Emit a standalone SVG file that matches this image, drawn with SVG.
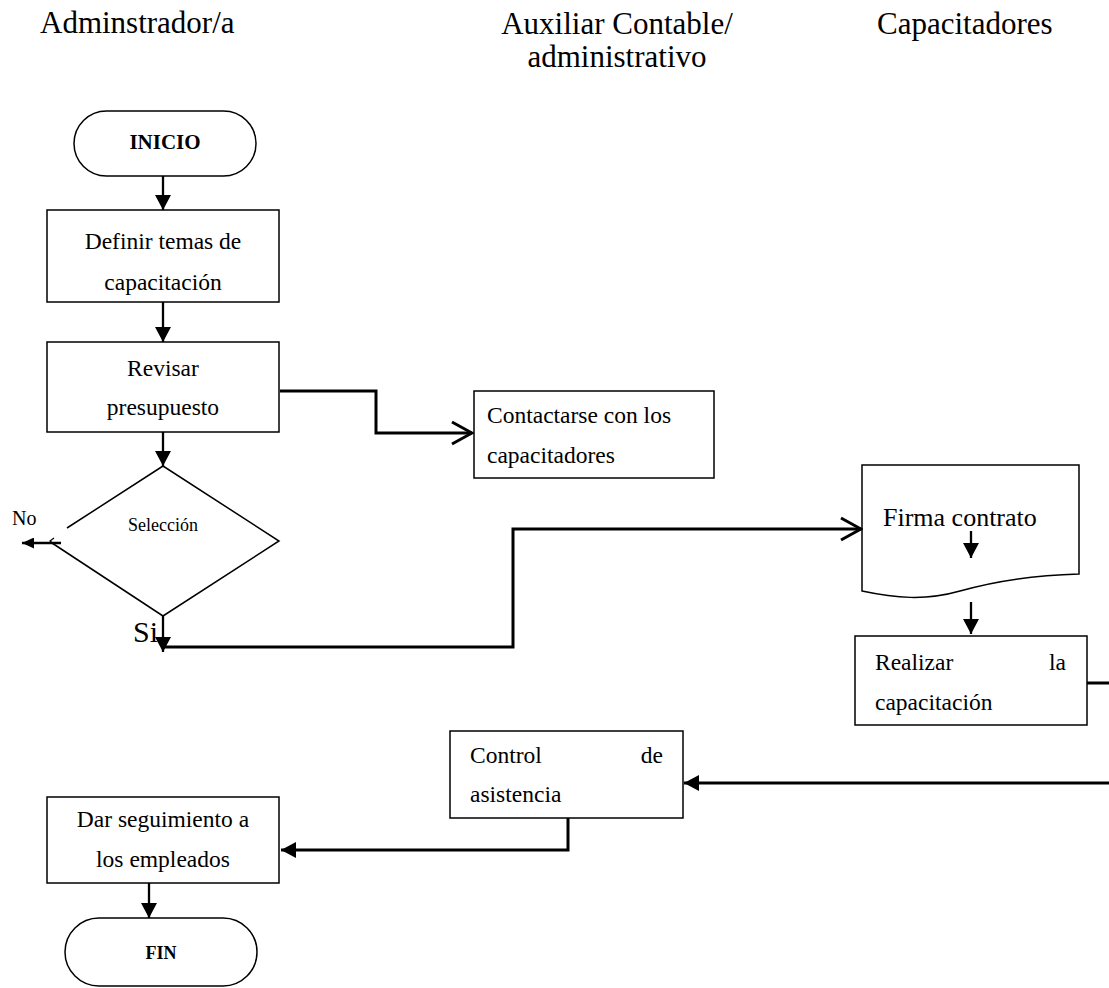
<svg xmlns="http://www.w3.org/2000/svg" width="1109" height="988" viewBox="0 0 1109 988" font-family="'Liberation Serif', 'Times New Roman', Times, 'DejaVu Serif', serif">
  <style>
    text { font-family: 'Liberation Serif', 'Times New Roman', Times, 'DejaVu Serif', serif; fill: #000; }
    .hdr { font-size: 31px; }
    .body { font-size: 23.5px; }
    .shape { fill: #fff; stroke: #000; stroke-width: 1.5; }
    .conn { fill: none; stroke: #000; stroke-width: 3; }
    .stem { fill: none; stroke: #000; stroke-width: 2.3; }
  </style>
  <defs>
    <marker id="head" markerUnits="userSpaceOnUse" viewBox="0 0 15 16" refX="15" refY="8" markerWidth="15" markerHeight="16" orient="auto">
      <path d="M0,0 L15,8 L0,16 z" fill="#000"/>
    </marker>
    <marker id="headSmall" markerUnits="userSpaceOnUse" viewBox="0 0 12 11" refX="12" refY="5.5" markerWidth="12" markerHeight="11" orient="auto">
      <path d="M0,0 L12,5.5 L0,11 z" fill="#000"/>
    </marker>
    <marker id="chevron" markerUnits="userSpaceOnUse" viewBox="-2 -2 24 26" refX="20" refY="11" markerWidth="24" markerHeight="26" orient="auto">
      <path d="M0,0 L20,11 L0,22" fill="none" stroke="#000" stroke-width="3"/>
    </marker>
  </defs>

  <rect width="1109" height="988" fill="#fff"/>

  <!-- lane headings -->
  <g id="lanes">
    <text class="hdr" x="40" y="33">Adminstrador/a</text>
    <text class="hdr" x="617" y="34" text-anchor="middle">Auxiliar Contable/</text>
    <text class="hdr" x="617" y="67" text-anchor="middle">administrativo</text>
    <text class="hdr" x="877" y="34">Capacitadores</text>
  </g>

  <g id="inicio">
    <rect class="shape" x="74" y="111" width="182" height="65" rx="32.5"/>
    <text x="165" y="149" font-size="21" font-weight="bold" text-anchor="middle">INICIO</text>
  </g>

  <g id="definir-temas">
    <rect class="shape" x="47" y="210" width="232" height="92"/>
    <text class="body" x="163" y="249" text-anchor="middle">Definir temas de</text>
    <text class="body" x="163" y="290" text-anchor="middle">capacitación</text>
  </g>

  <g id="revisar-presupuesto">
    <rect class="shape" x="47" y="342" width="232" height="90"/>
    <text class="body" x="163" y="376" text-anchor="middle">Revisar</text>
    <text class="body" x="163" y="415" text-anchor="middle">presupuesto</text>
  </g>

  <g id="contactarse">
    <rect class="shape" x="474" y="391" width="240" height="87"/>
    <text class="body" x="487" y="423">Contactarse con los</text>
    <text class="body" x="487" y="463">capacitadores</text>
  </g>

  <g id="seleccion">
    <path d="M67,528 L163,466 L279,541 L163,616 L52,543" fill="none" stroke="#000" stroke-width="1.5"/>
    <path d="M54,538 L50,541 L54,544" fill="none" stroke="#000" stroke-width="1.2"/>
    <text x="128" y="531" font-size="18">Selección</text>
    <text x="12" y="525" font-size="20">No</text>
    <text x="133" y="642" font-size="30">Si</text>
  </g>

  <g id="firma-contrato">
    <path class="shape" d="M862,465 H1079 V574 C1040,575 995,581 960,591 C925,601 895,598 862,591 Z"/>
    <text x="883" y="526" font-size="26">Firma contrato</text>
  </g>

  <g id="realizar-capacitacion">
    <rect class="shape" x="855" y="636" width="232" height="89"/>
    <text class="body" x="875" y="670">Realizar</text>
    <text class="body" x="1066" y="670" text-anchor="end">la</text>
    <text class="body" x="875" y="710">capacitación</text>
  </g>

  <g id="control-asistencia">
    <rect class="shape" x="450" y="731" width="233" height="87"/>
    <text class="body" x="470" y="763">Control</text>
    <text class="body" x="663" y="763" text-anchor="end">de</text>
    <text class="body" x="470" y="802">asistencia</text>
  </g>

  <g id="dar-seguimiento">
    <rect class="shape" x="47" y="797" width="232" height="86"/>
    <text class="body" x="163" y="827" text-anchor="middle">Dar seguimiento a</text>
    <text class="body" x="163" y="867" text-anchor="middle">los empleados</text>
  </g>

  <g id="fin">
    <rect class="shape" x="65" y="918" width="192" height="68" rx="34"/>
    <text x="161" y="959" font-size="18" font-weight="bold" text-anchor="middle">FIN</text>
  </g>

  <!-- connectors, drawn over the shapes -->
  <g id="connectors">
    <path class="stem" d="M163,176 V210" marker-end="url(#head)"/>
    <path class="stem" d="M163,302 V342" marker-end="url(#head)"/>
    <path class="stem" d="M163,432 V466" marker-end="url(#head)"/>
    <path class="conn" d="M280,391 H376 V433 H472" marker-end="url(#chevron)"/>
    <path class="stem" d="M61,543 H22" marker-end="url(#headSmall)"/>
    <path class="stem" d="M163,616 V652" marker-end="url(#head)"/>
    <path class="conn" d="M163,647 H513 V529 H861" marker-end="url(#chevron)"/>
    <path class="stem" d="M971,531 V558" marker-end="url(#head)"/>
    <path class="stem" d="M971,602 V634" marker-end="url(#head)"/>
    <path class="conn" d="M1087,683 H1122 V783 H684" marker-end="url(#head)"/>
    <path class="conn" d="M568,818 V850 H281" marker-end="url(#head)"/>
    <path class="stem" d="M149,883 V918" marker-end="url(#head)"/>
  </g>
</svg>
